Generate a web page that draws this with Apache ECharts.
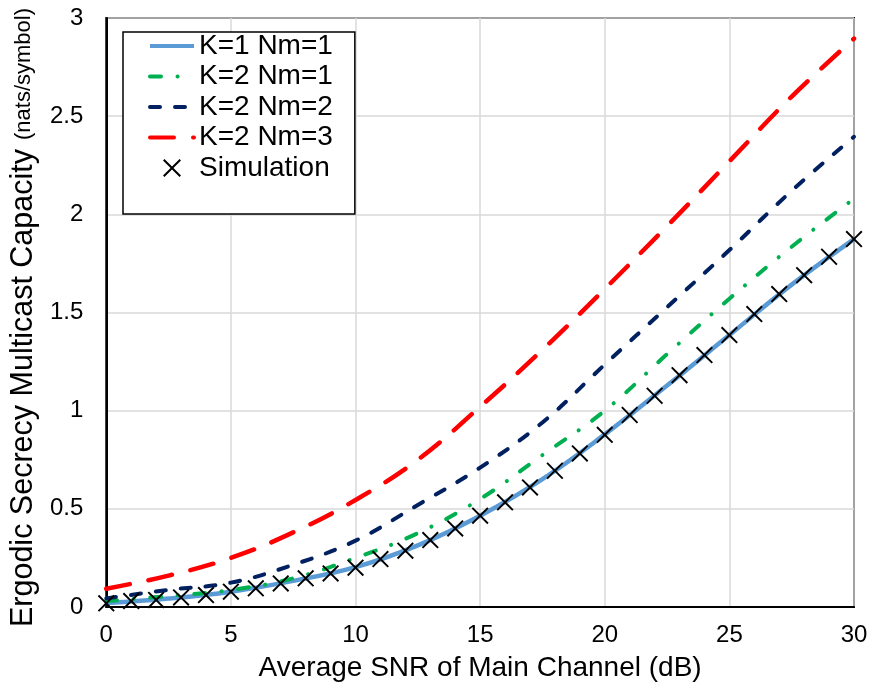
<!DOCTYPE html>
<html>
<head>
<meta charset="utf-8">
<script src="https://cdn.jsdelivr.net/npm/echarts@6/dist/echarts.min.js"></script>
<style>
html,body{margin:0;padding:0;background:#fff;}
#chart{width:881px;height:691px;}
</style>
</head>
<body>
<div id="chart"></div>
<script>
// ---- data ----
const snrLine = [0, 2.5, 5, 7.5, 10, 12.5, 15, 17.5, 20, 22.5, 25, 27.5, 30];
const k1nm1 = [0.02, 0.043, 0.078, 0.133, 0.203, 0.314, 0.465, 0.651, 0.879, 1.128, 1.385, 1.642, 1.874];
const k2nm1 = [0.03, 0.056, 0.087, 0.146, 0.25, 0.376, 0.55, 0.774, 1.0, 1.288, 1.57, 1.835, 2.08];
const k2nm2 = [0.044, 0.087, 0.124, 0.215, 0.338, 0.52, 0.71, 0.94, 1.235, 1.527, 1.818, 2.12, 2.395];
const k2nm3 = [0.093, 0.16, 0.25, 0.38, 0.545, 0.75, 1.02, 1.31, 1.62, 1.94, 2.27, 2.60, 2.895];
const snrSim = [0, 1, 2, 3, 4, 5, 6, 7, 8, 9, 10, 11, 12, 13, 14, 15, 16, 17, 18, 19, 20, 21, 22, 23, 24, 25, 26, 27, 28, 29, 30];
const simulation = [0.019, 0.03, 0.036, 0.049, 0.061, 0.078, 0.095, 0.12, 0.146, 0.171, 0.2, 0.244, 0.287, 0.341, 0.4, 0.465, 0.533, 0.609, 0.694, 0.782, 0.877, 0.978, 1.076, 1.181, 1.283, 1.385, 1.492, 1.594, 1.69, 1.784, 1.874];
const seriesNames = ['K=1 Nm=1', 'K=2 Nm=1', 'K=2 Nm=2', 'K=2 Nm=3', 'Simulation'];
const xTicks = {min: 0, max: 30, interval: 5};
const yTicks = {min: 0, max: 3, interval: 0.5};

const FONT = "'Liberation Sans', Arial, Helvetica, sans-serif";
const pairs = (xs, ys) => xs.map((x, i) => [x, ys[i]]);
const crossPath = 'path://M0,8 L8,0 L50,42 L92,0 L100,8 L58,50 L100,92 L92,100 L50,58 L8,100 L0,92 L42,50 Z';
const hiddenMark = {color: 'rgba(0,0,0,0)', borderColor: 'rgba(0,0,0,0)', borderWidth: 0};

const chart = echarts.init(document.getElementById('chart'), null, {renderer: 'canvas'});
chart.setOption({
  animation: false,
  backgroundColor: '#fff',
  textStyle: {fontFamily: FONT},
  grid: {left: 105, right: 27, top: 18, bottom: 84, show: true, borderColor: '#000', borderWidth: 2, backgroundColor: 'transparent'},
  legend: {
    orient: 'vertical', left: 123, top: 32,
    itemWidth: 44, itemHeight: 18, itemGap: 2.5,
    backgroundColor: '#fff', borderColor: '#000', borderWidth: 1.5,
    padding: [0, 22, 32, 25],
    selectedMode: false,
    textStyle: {fontSize: 28, color: '#000', fontFamily: FONT, lineHeight: 28},
    data: [
      {name: seriesNames[0], itemStyle: hiddenMark, lineStyle: {width: 4}},
      {name: seriesNames[1], itemStyle: hiddenMark, lineStyle: {width: 4}},
      {name: seriesNames[2], itemStyle: hiddenMark, lineStyle: {width: 4}},
      {name: seriesNames[3], itemStyle: hiddenMark, lineStyle: {width: 4}},
      {name: seriesNames[4], itemStyle: {color: '#000'}}
    ]
  },
  xAxis: {
    type: 'value', min: xTicks.min, max: xTicks.max, interval: xTicks.interval,
    name: 'Average SNR of Main Channel (dB)', nameLocation: 'middle', nameGap: 47,
    nameTextStyle: {fontSize: 28, color: '#000', fontFamily: FONT},
    axisLine: {show: true, lineStyle: {color: '#000', width: 2}},
    axisTick: {show: false},
    axisLabel: {fontSize: 24, color: '#000', margin: 16, fontFamily: FONT},
    splitLine: {show: true, lineStyle: {color: '#d9d9d9', width: 1.5}}
  },
  yAxis: {
    type: 'value', min: yTicks.min, max: yTicks.max, interval: yTicks.interval,
    name: '{a|Ergodic Secrecy Multicast Capacity}{b|(nats/symbol)}',
    nameLocation: 'middle', nameRotate: 90, nameGap: 64,
    nameTextStyle: {
      color: '#000', fontFamily: FONT, padding: [0, 10, 0, 0],
      rich: {a: {fontSize: 30.5, color: '#000', fontFamily: FONT},
             b: {fontSize: 22, color: '#000', fontFamily: FONT, padding: [0, 0, 0, 9]}}
    },
    axisLine: {show: true, lineStyle: {color: '#000', width: 2}},
    axisTick: {show: false},
    axisLabel: {fontSize: 24, color: '#000', margin: 23, fontFamily: FONT},
    splitLine: {show: true, lineStyle: {color: '#d9d9d9', width: 1.5}}
  },
  series: [
    {name: seriesNames[0], type: 'line', data: pairs(snrLine, k1nm1), smooth: 0.4, symbol: 'none',
     itemStyle: {color: '#5B9BD5'}, lineStyle: {color: '#5B9BD5', width: 4.5}, z: 2},
    {name: seriesNames[1], type: 'line', data: pairs(snrLine, k2nm1), smooth: 0.4, symbol: 'none',
     itemStyle: {color: '#00B050'}, lineStyle: {color: '#00B050', width: 4, type: [11, 16.5, 0.1, 16.5], cap: 'round'}, z: 2},
    {name: seriesNames[2], type: 'line', data: pairs(snrLine, k2nm2), smooth: 0.4, symbol: 'none',
     itemStyle: {color: '#002060'}, lineStyle: {color: '#002060', width: 4, type: [10, 15], cap: 'round'}, z: 2},
    {name: seriesNames[3], type: 'line', data: pairs(snrLine, k2nm3), smooth: 0.4, symbol: 'none',
     itemStyle: {color: '#FF0000'}, lineStyle: {color: '#FF0000', width: 4.5, type: [24, 19], cap: 'round'}, z: 2},
    {name: seriesNames[4], type: 'scatter', data: pairs(snrSim, simulation), symbol: crossPath, symbolSize: 17,
     symbolKeepAspect: true, itemStyle: {color: '#000', opacity: 1}, z: 3}
  ]
});
</script>
</body>
</html>
